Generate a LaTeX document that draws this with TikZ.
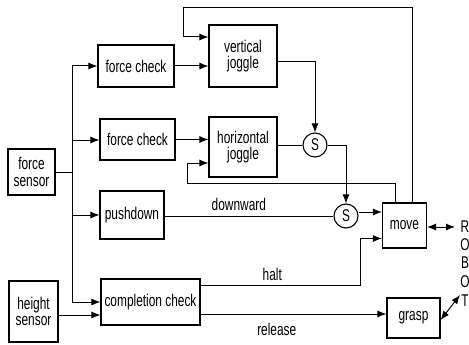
\documentclass[tikz,border=0pt]{standalone}
\usepackage{fontspec}
\setmainfont{Liberation Sans}[FakeStretch=0.70]
\usetikzlibrary{arrows.meta}
\begin{document}
\begin{tikzpicture}[x=1pt,y=-1pt,
  box/.style={draw,line width=1.1pt,minimum width=#1,inner sep=0pt,align=center,font=\fontsize{17}{16.5}\selectfont},
  sum/.style={draw,circle,line width=1.1pt,minimum size=24pt,inner sep=0pt,font=\fontsize{17}{17}\selectfont},
  conn/.style={line width=1pt},
  arr/.style={conn,-{Latex[length=9pt,width=7pt]}},
  darr/.style={conn,{Latex[length=9pt,width=7pt]}-{Latex[length=9pt,width=7pt]}},
  lbl/.style={font=\fontsize{17}{17}\selectfont,inner sep=0pt}]
\useasboundingbox (0,0) rectangle (469,345);
% boxes
\node[box=47pt,minimum height=46pt] (fs) at (31.5,172) {force\\sensor};
\node[box=49pt,minimum height=61pt] (hs) at (33.5,311.5) {height\\sensor};
\node[box=76pt,minimum height=42pt] (fc1) at (136,66) {force check};
\node[box=75pt,minimum height=41pt] (fc2) at (137.5,139.5) {force check};
\node[box=64pt,minimum height=48pt] (pd) at (132,215) {pushdown};
\node[box=99pt,minimum height=46pt] (cc) at (150.5,302) {completion check};
\node[box=68pt,minimum height=62pt] (vj) at (243,56) {vertical\\joggle};
\node[box=68pt,minimum height=60pt] (hj) at (243,147) {horizontal\\joggle};
\node[sum] (s1) at (315,145) {S};
\node[sum] (s2) at (346,216) {S};
\node[box=44pt,minimum height=45pt] (mv) at (404.5,225.5) {move};
\node[box=53pt,minimum height=40pt] (gr) at (413.5,318) {grasp};
% ROBOT
\node[lbl] (r1) at (465,227) {R};
\node[lbl] (r2) at (465,245) {O};
\node[lbl] (r3) at (465,263) {B};
\node[lbl] (r4) at (465,282) {O};
\node[lbl] (r5) at (465,301) {T};
% coordinates
\coordinate (t1) at (72,66);
\coordinate (t2) at (72,140);
\coordinate (t3) at (72,215);
\coordinate (t4) at (72,302);
\coordinate (tf) at (72,172);
\coordinate (topL) at (183,8);
\coordinate (hl) at (187,183);
\coordinate (hc) at (360,285);
\coordinate (robR) at (455,227);
\coordinate (robT) at (460,295);
% trunk
\draw[conn] (fs.east |- tf) -- (tf);
\draw[conn] (t1) -- (t4);
\draw[arr] (t1) -- (t1 -| fc1.west);
\draw[arr] (t2) -- (t2 -| fc2.west);
\draw[arr] (t3) -- (t3 -| pd.west);
\draw[arr] (t4) -- (t4 -| cc.west);
\draw[arr] ([yshift=-3.5pt]hs.east) -- ([yshift=-3.5pt]hs.east -| cc.west);
% checks to joggles
\draw[arr] (fc1.east) -- (fc1.east -| vj.west);
\draw[arr] (fc2.east) -- (fc2.east -| hj.west);
% loops
\draw[arr] ([xshift=8pt]mv.north) |- (topL) |- ([yshift=19pt]vj.west);
\draw[arr] ([xshift=-9pt]mv.north) |- (hl) |- ([yshift=-16pt]hj.west);
% summations
\draw[arr] ([yshift=-6pt]vj.east) -| (s1.north);
\draw[conn] (s1.west -| hj.east) -- (s1.west);
\draw[arr] (s1.east) -| (s2.north);
\draw[conn] (s2.west -| pd.east) -- node[lbl,above=5pt,pos=0.44] {downward} (s2.west);
\draw[arr] ([yshift=4pt]s2.east) -- ([yshift=4pt]s2.east -| mv.west);
% completion outputs
\draw[arr] (cc.east |- hc) -- node[lbl,above=4pt,pos=0.45] {halt} (hc) |- ([yshift=-13pt]mv.west);
\draw[arr] ([yshift=-12pt]cc.east) -- node[lbl,below=9pt,pos=0.41] {release} ([yshift=-12pt]cc.east -| gr.west);
% robot links
\draw[darr] (mv.east |- robR) -- (robR);
\draw[darr] ([yshift=-2pt]gr.east) -- (robT);
\end{tikzpicture}
\end{document}
